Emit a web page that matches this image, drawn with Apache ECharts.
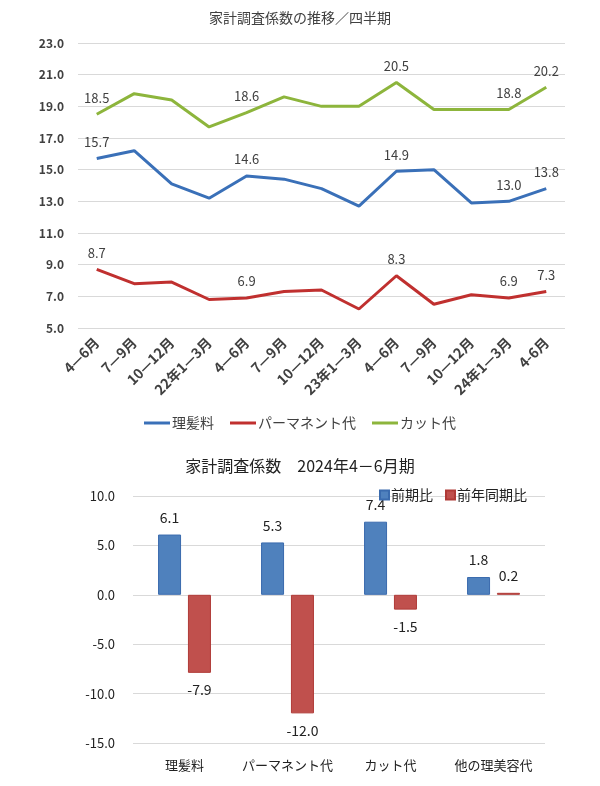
<!DOCTYPE html>
<html><head><meta charset="utf-8">
<script src="https://cdn.jsdelivr.net/npm/echarts@6/dist/echarts.min.js"></script>
<style>html,body{margin:0;padding:0;background:#fff}#c{width:600px;height:786px}</style>
</head><body><div id="c"></div>
<script>
const quarters = ['4—6月','7—9月','10—12月','22年1—3月','4—6月','7—9月','10—12月','23年1—3月','4—6月','7—9月','10—12月','24年1—3月','4-6月'];
const haircut = [15.7,16.2,14.1,13.2,14.6,14.4,13.8,12.7,14.9,15.0,12.9,13.0,13.8];
const perm = [8.7,7.8,7.9,6.8,6.9,7.3,7.4,6.2,8.3,6.5,7.1,6.9,7.3];
const cut = [18.5,19.8,19.4,17.7,18.6,19.6,19.0,19.0,20.5,18.8,18.8,18.8,20.2];
const labelIdx = [0,4,8,11,12];
const topTicks = [5,7,9,11,13,15,17,19,21,23];
const barCats = ['理髪料','パーマネント代','カット代','他の理美容代'];
const qoq = [6.1,5.3,7.4,1.8];
const yoy = [-7.9,-12.0,-1.5,0.2];

const FONT = '"Noto Sans CJK JP", "Noto Sans", sans-serif';
const chart = echarts.init(document.getElementById('c'));
function lineSeries(name, data, color){
  return {
    name, type:'line', data, xAxisIndex:0, yAxisIndex:0,
    symbol:'circle', symbolSize:0.01, showSymbol:true,
    lineStyle:{width:3, color}, itemStyle:{color},
    label:{show:true, position:'top', distance:10, color:'#404040', fontSize:13, fontFamily:FONT,
      formatter:p=>labelIdx.includes(p.dataIndex)?p.value.toFixed(1):''},
    labelLayout:{hideOverlap:false},
    emphasis:{disabled:true}
  };
}
function barData(vals){
  return vals.map(v=>({value:v, label:{position: v<0?'bottom':'top'}}));
}
chart.setOption({
  textStyle:{fontFamily:FONT},
  animation:false,
  title:[
    {text:'家計調査係数の推移／四半期', left:'center', top:6, textStyle:{fontSize:14, fontWeight:'normal', color:'#404040', fontFamily:FONT}},
    {text:'家計調査係数　2024年4－6月期', left:295, textAlign:'center', top:453, textStyle:{fontSize:16, fontWeight:'normal', color:'#222', fontFamily:FONT}}
  ],
  legend:[
    {data:['理髪料','パーマネント代','カット代'], top:411, left:'center', itemWidth:26, itemHeight:3, itemGap:16,
     icon:'rect', textStyle:{fontSize:14, color:'#404040', fontFamily:FONT, padding:[0,0,0,-3]}},
    {data:['前期比','前年同期比'], top:483, left:374, itemWidth:9, itemHeight:9, itemGap:12, icon:'rect',
     textStyle:{fontSize:14, color:'#222', fontFamily:FONT, padding:[0,0,0,-3]}}
  ],
  grid:[
    {left:78, right:35, top:43, height:285},
    {left:133, right:55, top:496, height:247}
  ],
  xAxis:[
    {type:'category', gridIndex:0, data:quarters, boundaryGap:true,
     axisLine:{show:false}, axisTick:{show:false},
     axisLabel:{rotate:45, interval:0, color:'#404040', fontSize:14, fontWeight:'bold', fontFamily:FONT, margin:12}},
    {type:'category', gridIndex:1, data:barCats,
     axisLine:{show:false}, axisTick:{show:false},
     axisLabel:{interval:0, color:'#222', fontSize:13, fontFamily:FONT, margin:16}}
  ],
  yAxis:[
    {type:'value', gridIndex:0, min:5, max:23,
     axisLine:{show:false}, axisTick:{show:false, customValues:topTicks},
     axisLabel:{customValues:topTicks, formatter:v=>v.toFixed(1), color:'#404040', fontSize:12, fontWeight:'bold', fontFamily:FONT, margin:14},
     splitLine:{lineStyle:{color:'#d9d9d9', width:1}}},
    {type:'value', gridIndex:1, min:-15, max:10, interval:5,
     axisLine:{show:false}, axisTick:{show:false},
     axisLabel:{formatter:v=>v.toFixed(1), color:'#222', fontSize:13, fontFamily:FONT, margin:18},
     splitLine:{lineStyle:{color:'#d9d9d9', width:1}}}
  ],
  series:[
    lineSeries('理髪料', haircut, '#3A70B8'),
    lineSeries('パーマネント代', perm, '#C0302F'),
    lineSeries('カット代', cut, '#8DB53C'),
    {name:'前期比', type:'bar', xAxisIndex:1, yAxisIndex:1, data:barData(qoq), barWidth:23, barGap:'30%',
     itemStyle:{color:'#4F81BD', borderColor:'#3A6BAE', borderWidth:1},
     label:{show:true, distance:10, color:'#222', fontSize:14, fontFamily:FONT, formatter:p=>p.value.toFixed(1)}},
    {name:'前年同期比', type:'bar', xAxisIndex:1, yAxisIndex:1, data:barData(yoy), barWidth:23,
     itemStyle:{color:'#C0504D', borderColor:'#B03A37', borderWidth:1},
     label:{show:true, distance:10, color:'#222', fontSize:14, fontFamily:FONT, formatter:p=>p.value.toFixed(1)}}
  ]
});
</script></body></html>
